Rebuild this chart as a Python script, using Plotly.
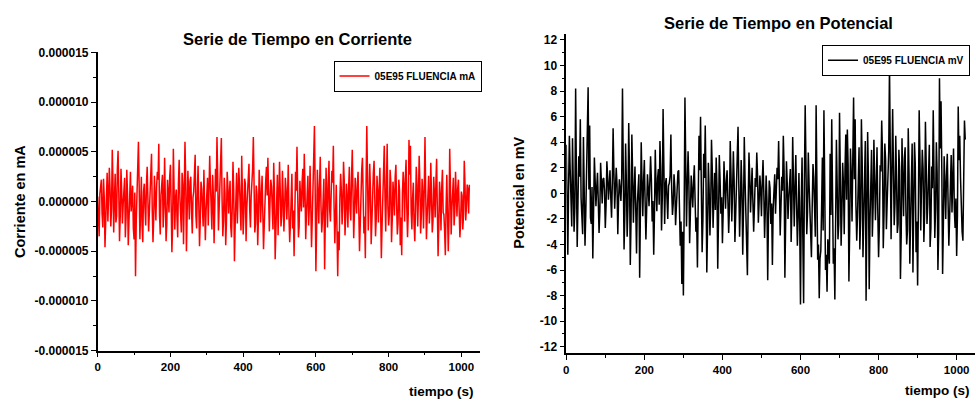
import plotly.graph_objects as go

W, H = 976, 406

tiempo = list(range(0, 1024, 2))
corriente_u = [
    0.5, -1.2, -3.5, 0.8, 1.8, 2.2, -1.2, -2.6, 2.3, 0.4, -4.6, -1.8, 1.5, 2.9, -2.0, 0.6, 3.4, 1.2, -2.5, -0.7, 5.2, 1.9, -3.1, 0.2, 2.8, -2.1, -1.5, 3.3, 5.1, 0.9, -4.0, -1.4,
    3.3, 1.1, -2.2, -0.3, 0.9, 2.4, -3.6, -1.5, 3.2, 0.7, -4.4, -2.0, 2.1, 3.0, -1.0, 0.5, 1.6, -2.7, -3.8, 0.9, -7.5, -1.9, 1.2, 3.4, 6.0, 1.6, -3.8, -0.8, 2.5, -2.3, -4.1, 1.0,
    1.8, -0.6, -2.4, 1.7, 3.5, 0.3, -3.0, -1.1, 0.8, 2.6, 4.8, -0.9, -4.1, -1.7, 2.6, 0.4, -1.9, 1.5, 3.0, 2.2, 5.8, -1.3, -3.3, 0.6, 1.4, 2.7, -2.6, -0.5, 4.4, 1.2, -4.0, -2.2,
    2.2, 0.8, -1.1, 2.5, 3.7, -0.4, -5.1, -2.3, 5.3, 1.4, -2.8, 0.3, 1.2, -1.6, -3.6, 1.9, 4.2, 0.5, -2.0, -3.1, 2.9, 1.7, -4.3, -0.8, 6.0, 2.3, -5.0, -1.2, 3.1, 0.9, -1.8, 2.0,
    2.5, -0.9, -3.2, 0.4, 1.0, 2.8, 4.7, -1.4, -2.7, 1.1, 3.6, -0.2, -4.5, -2.0, 2.0, 1.3, -1.3, -2.5, 3.2, 0.7, -3.9, -1.0, 1.7, 2.4, -2.4, 0.1, 4.6, 1.8, -1.6, -2.8, 2.7, 0.6,
    -4.2, -1.3, 3.3, 1.0, 6.5, 2.6, -2.9, -0.7, 1.9, 3.1, 6.4, 0.2, -3.5, -1.9, 2.4, 0.8, -4.4, -2.1, 3.0, 1.5, -1.2, 0.6, 2.1, -2.6, -3.6, -0.5, 4.0, 1.2, -6.0, -2.4, 1.5, 2.9,
    -2.2, 0.4, 3.4, 1.6, -1.5, -2.9, 4.6, 0.9, -3.3, -1.2, 2.3, 1.8, -4.0, -0.6, 1.1, 2.5, 3.8, -0.8, -2.6, 0.5, 2.0, 3.3, 6.5, -1.0, -3.1, -2.2, 1.6, 0.7, -4.4, -1.7, 3.2, 1.4,
    -2.1, 0.3, 2.6, -1.0, -4.8, -2.4, 1.4, 2.1, 3.5, 0.6, 4.4, -1.3, -3.0, 0.2, 2.2, 1.5, -1.7, -2.8, 3.9, 1.0, -5.8, -1.9, 1.3, 2.7, -3.4, -0.7, 4.0, 1.1, -2.5, -1.4, 3.1, 0.5,
    -3.0, -0.8, 2.4, 1.2, -1.8, 0.4, 3.7, -1.6, -4.1, -2.2, 1.9, 2.8, -2.7, -0.9, -5.5, -1.5, 3.0, 1.1, 5.5, 0.7, -3.6, -2.5, 2.1, 0.3, -1.0, 1.9, 3.3, -0.6, 4.8, 1.4, -3.8, -1.3,
    1.5, 2.6, -2.4, -0.5, 3.6, 0.9, -4.6, -1.8, 2.0, 3.4, 7.6, 1.3, -7.0, -2.6, 3.2, 0.8, -2.2, 1.7, 4.5, -0.4, -3.1, -1.9, 1.2, 2.3, -6.8, -2.0, 3.4, 0.6, -2.6, 1.8, 4.1, -0.9,
    -2.0, 0.7, 3.1, 1.9, 5.6, -0.6, -4.2, -1.4, 1.7, -2.8, -7.5, -3.0, -4.9, 0.4, 2.8, 1.2, -2.3, -0.5, 4.0, 2.1, -3.4, -1.6, 1.8, 0.3, -2.6, 1.4, 3.5, -0.8, -1.9, 2.4, 5.2, 1.0,
    -3.7, -1.1, 2.4, 0.5, -1.2, 1.8, 3.0, -0.9, -5.0, -2.3, 2.1, 3.2, 4.4, 0.6, -3.2, -1.5, -5.7, 1.9, 7.6, 2.5, -2.9, -0.4, 3.8, 1.3, -4.3, -2.0, 1.6, 2.9, 4.1, -0.2, -3.5, -1.7,
    2.6, 0.9, -2.1, 1.3, 3.4, -0.7, -5.7, -2.4, 1.5, 2.8, 5.6, 0.4, -3.0, 1.6, 5.8, -0.5, -2.4, -1.3, 3.2, 2.0, -4.1, -1.8, 2.0, 0.6, -1.4, 2.5, 3.7, -0.3, -3.3, -2.1, 2.2, 1.1,
    -4.4, -1.6, -5.4, 0.8, 3.0, 1.5, -2.0, 2.4, 4.2, -0.6, -3.6, -1.2, 6.2, 2.7, 5.6, -1.0, -2.8, 0.4, 1.9, -2.3, -4.0, -0.9, 3.5, 1.7, -2.5, 0.5, 4.6, 2.0, -3.2, -1.4, 2.3, 0.8,
    -2.7, 1.3, 6.5, 0.9, -3.8, -1.5, 1.4, 2.6, -2.2, -0.4, 3.9, 1.1, -3.1, -1.9, 2.5, 0.7, -1.6, 1.9, 4.3, -0.8, -5.5, -2.4, 2.0, 0.5, -2.9, 1.4, 3.2, -1.1, -1.3, -3.0, -5.4, -0.6,
    2.7, -1.2, -5.0, -1.8, 5.3, 1.6, -3.3, -0.7, 1.8, 2.4, -2.4, -1.0, 3.0, 0.4, -1.5, 1.3, 2.2, -0.9, -3.6, -2.1, 1.0, 0.6, -2.8, -1.3, 4.1, 1.8, -1.9, -0.5, 1.7, 1.2, -1.2, 1.7,
]
corriente = [v * 1e-6 for v in corriente_u]  # unit conversion to mA

potencial = [
    3.8, -1.2, -4.8, 0.6, 4.5, 1.9, -1.5, -2.6, 4.3, 0.8, -3.0, -1.1, 8.2, 1.5, -4.2, -0.7, 2.9, 1.3, 5.8, -0.4, -2.8, -3.2, 4.4, 0.9, -4.1, -1.6, 1.7, 2.5, 8.3, 0.3, 5.3, -1.9,
    -2.4, 0.5, -5.1, -1.3, 2.8, 1.0, -1.0, 0.4, 1.6, -0.6, -3.1, -1.4, 2.4, 0.9, -0.8, 1.1, 1.2, 0.2, -2.7, -0.9, 2.5, 1.3, -0.5, 0.6, 1.8, -0.3, -1.9, 0.8, 5.1, 1.7, -1.2, 0.4,
    2.0, 0.7, -3.2, -0.5, 1.1, 0.3, -0.6, 1.2, 8.2, 2.1, -4.4, -1.7, 3.9, 0.8, -3.4, -1.0, 5.5, 1.6, -5.6, -2.0, 4.6, 1.4, -2.3, 0.2, 2.1, -1.3, -4.7, -0.8, 0.6, 1.5, -6.6, -1.8,
    4.0, 0.9, -1.8, 1.0, 2.6, -0.7, -3.6, -1.2, 1.5, 0.4, -1.0, 0.8, 2.9, 1.1, -2.2, -0.6, -4.8, -1.5, 3.4, 0.5, -1.4, 1.2, 1.9, -0.9, 4.1, 1.8, -2.9, -0.3, 6.6, 2.2, -2.4, 0.7,
    1.2, -0.4, -2.0, 0.6, 0.8, 1.4, 4.6, 0.3, -1.7, -0.8, 1.5, 0.5, -2.5, -1.1, 0.9, 1.7, 1.8, -0.6, -4.1, -2.2, -7.1, -3.0, -8.0, -1.4, 7.5, 2.4, -2.6, 0.6, 3.3, 1.0, -3.9, -1.5,
    1.4, 0.2, -1.1, 0.9, 2.2, -0.5, -3.0, -1.9, -5.8, -0.7, 4.5, 1.8, 6.0, 0.4, -4.6, -2.1, 3.1, 1.2, 5.3, 0.8, -6.2, -2.6, 2.4, 0.3, -3.3, -1.0, 4.2, 1.9, -2.7, -0.4, 1.6, -1.3,
    2.8, 0.6, -5.9, -2.0, 3.0, 1.1, -1.6, -0.3, -3.9, -1.4, 2.5, 0.7, -1.2, 0.9, 1.8, -0.5, -3.1, -1.2, 4.1, 1.5, -2.2, 0.1, 3.3, 1.0, -3.8, -1.7, 1.1, 2.4, 5.2, 0.6, -3.4, -0.9,
    2.6, 0.4, -4.8, -1.3, 4.4, 1.0, -1.9, -2.7, -6.4, -0.8, 3.2, 1.3, -1.5, 0.2, 2.0, -0.6, -3.0, -1.1, 1.2, 0.5, 3.2, 1.4, -2.3, -0.7, 1.4, 0.3, -1.8, 0.9, 2.6, 0.1, -3.5, -1.2,
    1.4, -0.5, -6.8, -1.9, 1.0, 0.4, -2.4, -0.8, -5.6, -1.2, 0.9, 1.5, -1.6, 0.3, 2.0, 1.1, 4.1, 0.6, -3.3, -1.0, 1.3, 0.2, 4.5, 1.7, -6.6, -2.2, 2.5, 0.8, -2.0, -0.4, 1.1, 1.9,
    -3.8, -1.1, 4.4, 1.3, -2.6, 0.5, 3.0, -0.9, -4.1, -1.7, 1.6, -2.4, -8.7, -0.6, 2.8, -3.5, -8.6, 1.0, 6.9, 2.3, -3.2, -1.5, 3.2, 0.7, -1.4, -2.8, -5.0, -1.0, 2.3, 1.2, -2.6, -3.4,
    6.9, -2.5, -5.2, -4.0, -8.2, -5.1, -4.5, -1.2, 2.8, -2.9, 6.5, 0.8, -6.0, -4.8, -7.7, -3.6, -4.8, -5.5, 3.1, -1.7, 5.8, -0.4, -5.5, -4.3, -8.3, -2.1, 4.2, 0.6, -3.6, -2.4, 6.3, 1.5,
    -4.1, -1.6, 2.4, 0.7, -3.2, 1.9, 4.6, -0.5, 5.0, 2.2, -6.9, -2.8, 3.5, 1.4, -2.2, 2.9, 7.5, 1.1, 5.8, -0.9, -3.7, -1.8, 2.0, 3.6, -4.4, -2.0, 5.8, 2.5, -5.0, -1.2, 3.3, 4.1,
    -8.4, -3.0, 4.8, 1.2, -7.5, -2.3, 2.6, 3.4, -3.4, -1.1, 4.2, 2.0, -2.1, 0.6, 3.6, -1.4, -5.0, -2.6, 2.2, 1.7, 5.7, 3.1, -4.3, -1.5, 3.9, 2.6, -2.8, -0.7, 1.5, 3.3, 10.0, 2.4,
    -3.6, 1.5, 6.6, 2.2, -2.5, -0.8, 4.5, 1.0, -3.1, -2.4, 3.4, 1.8, -6.7, -3.2, 4.3, 0.9, -1.8, 2.7, 3.6, -1.3, -4.0, -2.9, 5.1, 1.6, -5.5, -2.1, 2.4, 3.9, -6.2, -1.7, 4.0, 2.3,
    -4.6, -2.2, -7.2, -1.0, 6.5, 2.8, -2.9, 0.6, 3.4, 1.9, -3.8, -1.5, 5.6, 2.3, -2.4, -0.9, 3.0, 3.8, -4.2, -2.7, 2.1, 0.4, 6.5, 2.9, -3.5, -1.2, 4.0, 1.6, -6.0, -3.1, 9.0, 3.5,
    7.2, 1.8, -6.3, -2.4, 2.9, 0.7, -2.0, 1.4, 3.1, -0.6, -4.1, -1.9, 2.3, 3.0, -1.5, 0.8, 3.5, -1.2, -2.7, -0.4, -4.9, -1.8, 6.8, 2.6, 4.5, 1.1, -2.2, -3.0, -3.7, 1.5, 5.7, 4.2,
]

x_tick_vals = [0, 200, 400, 600, 800, 1000]
cur_tick_vals = [-0.000015, -0.00001, -0.000005, 0, 0.000005, 0.00001, 0.000015]
cur_tick_text = ["-0.000015", "-0.000010", "-0.000005", "0.000000", "0.000005", "0.000010", "0.000015"]
pot_tick_vals = [-12, -10, -8, -6, -4, -2, 0, 2, 4, 6, 8, 10, 12]
pot_tick_text = ["-12", "-10", "-8", "-6", "-4", "-2", "0", "2", "4", "6", "8", "10", "12"]

FONT = "Liberation Sans, Arial, sans-serif"


def px(x):
    return x / W


def py(y):
    return 1 - y / H


fig = go.Figure()
fig.add_trace(go.Scatter(
    x=tiempo, y=corriente, mode="lines", name="05E95 FLUENCIA mA",
    line=dict(color="#ff0000", width=1.5), xaxis="x", yaxis="y", legend="legend",
))
fig.add_trace(go.Scatter(
    x=tiempo, y=potencial, mode="lines", name="05E95 FLUENCIA mV",
    line=dict(color="#000000", width=1.5), xaxis="x2", yaxis="y2", legend="legend2",
))

ytickfont = dict(family=FONT, size=12, color="black", weight="bold")
xtickfont = dict(family=FONT, size=11.5, color="black", weight="bold")
common_axis = dict(
    showline=True, linecolor="black", linewidth=1.5, ticks="outside", ticklen=5,
    tickwidth=1.2, tickcolor="black", showgrid=False, zeroline=False,
)

fig.update_layout(
    width=W, height=H, autosize=False,
    margin=dict(l=0, r=0, t=0, b=0),
    paper_bgcolor="white", plot_bgcolor="white",
    xaxis=dict(domain=[px(95), px(478)], range=[0, 1050], anchor="y",
               tickvals=x_tick_vals, tickfont=xtickfont,
               minor=dict(dtick=100, tick0=0, ticks="outside", ticklen=3, tickcolor="black"),
               **common_axis),
    yaxis=dict(domain=[py(356), py(47)], range=[-0.000015, 0.000015], anchor="x",
               tickvals=cur_tick_vals, ticktext=cur_tick_text, tickfont=ytickfont,
               minor=dict(dtick=0.0000025, tick0=0, ticks="outside", ticklen=3, tickcolor="black"),
               **common_axis),
    xaxis2=dict(domain=[px(565), px(975)], range=[0, 1047], anchor="y2",
                tickvals=x_tick_vals, tickfont=xtickfont,
                minor=dict(dtick=100, tick0=0, ticks="outside", ticklen=3, tickcolor="black"),
                **common_axis),
    yaxis2=dict(domain=[py(358.5), py(27.5)], range=[-12.5, 12.5], anchor="x2",
                tickvals=pot_tick_vals, ticktext=pot_tick_text, tickfont=ytickfont,
                minor=dict(dtick=1, tick0=0, ticks="outside", ticklen=3, tickcolor="black"),
                **common_axis),
    legend=dict(x=px(480), y=py(55.5), xanchor="right", yanchor="top",
                bordercolor="black", borderwidth=1, bgcolor="white",
                font=dict(family=FONT, size=10, color="black", weight="bold"),
                tracegroupgap=0, itemwidth=30),
    legend2=dict(x=px(970), y=py(39), xanchor="right", yanchor="top",
                 bordercolor="black", borderwidth=1, bgcolor="white",
                 font=dict(family=FONT, size=10, color="black", weight="bold"),
                 tracegroupgap=0, itemwidth=30),
    showlegend=True,
)

ann_font = dict(family=FONT, color="black", weight="bold")
annotations = [
    dict(text="Serie de Tiempo en Corriente", x=px(295), y=py(33), size=16.5),
    dict(text="Serie de Tiempo en Potencial", x=px(778), y=py(17), size=16.5),
    dict(text="tiempo (s)", x=px(440), y=py(398), size=13.5),
    dict(text="tiempo (s)", x=px(937), y=py(397), size=13.5),
]
for a in annotations:
    fig.add_annotation(text=a["text"], x=a["x"], y=a["y"], xref="paper", yref="paper",
                       xanchor="center", yanchor="middle", showarrow=False,
                       font=dict(size=a["size"], **ann_font))
fig.add_annotation(text="Corriente en mA", x=px(17), y=py(201), xref="paper", yref="paper",
                   xanchor="center", yanchor="middle", showarrow=False, textangle=-90,
                   font=dict(size=14.5, **ann_font))
fig.add_annotation(text="Potencial en mV", x=px(518), y=py(192), xref="paper", yref="paper",
                   xanchor="center", yanchor="middle", showarrow=False, textangle=-90,
                   font=dict(size=14.5, **ann_font))

fig.write_html(
    "out.html",
    config={"displayModeBar": False},
    post_script="document.body.style.margin='0';document.body.style.overflow='hidden';",
)
